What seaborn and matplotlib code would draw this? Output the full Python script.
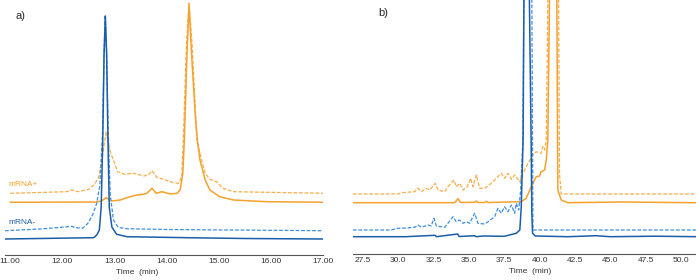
import matplotlib
matplotlib.use("Agg")
import matplotlib.pyplot as plt
import seaborn as sns
from matplotlib.ticker import MultipleLocator, FormatStrFormatter

sns.set_style("white")
plt.rcParams['font.family'] = ['Liberation Sans', 'DejaVu Sans']

# ---- panel a (11-17 min), heights in arbitrary detector units ----
a_blue_t = [10.90, 12.60, 12.66, 12.71, 12.745, 12.775, 12.80, 12.825, 12.85, 12.875,
            12.90, 12.95, 13.04, 13.24, 14.40, 15.50, 17.00]
a_blue_v = [16, 17.3, 20, 25, 48, 115, 200, 239, 200, 115,
            48, 28, 20.7, 18.3, 17.3, 16.5, 16]

a_blue_d_t = [10.90, 11.57, 11.89, 12.18, 12.24, 12.39, 12.49, 12.58, 12.66, 12.72,
              12.77, 12.80, 12.82, 12.85, 12.88, 12.92, 12.98, 13.07, 13.23, 14.00, 16.98]
a_blue_d_v = [24.3, 26, 27.3, 28.7, 27.5, 26.7, 31.7, 40, 51.7, 70,
              120, 200, 240, 200, 120, 60, 35, 27.7, 26.3, 25.5, 24.3]

a_orange_t = [11.00, 12.65, 12.75, 12.84, 12.95, 13.11, 13.30, 13.43, 13.56, 13.62,
              13.72, 13.80, 13.91, 14.07, 14.20, 14.26, 14.31, 14.34, 14.39, 14.43,
              14.48, 14.55, 14.59, 14.64, 14.74, 14.83, 15.02, 15.28, 15.92, 17.10]
a_orange_v = [52.7, 53, 54, 57.3, 54, 55, 58.3, 60, 60.7, 61.7,
              66.7, 61.7, 63.3, 61, 61.7, 65, 81.7, 115, 200, 250,
              200, 140, 115, 95, 75, 65, 58.3, 55, 53.3, 52.7]

a_orange_d_t = [11.00, 12.08, 12.18, 12.30, 12.51, 12.63, 12.70, 12.77, 12.84, 12.90,
                12.93, 13.00, 13.06, 13.19, 13.37, 13.56, 13.65, 13.72, 13.81, 13.94,
                14.13, 14.23, 14.29, 14.32, 14.38, 14.43, 14.49, 14.58, 14.64, 14.74,
                14.83, 14.96, 15.08, 15.28, 17.04]
a_orange_d_v = [61.7, 63.3, 65, 63.3, 65.7, 71.7, 78.3, 100, 123, 108,
                101.7, 91.7, 83.3, 80.7, 81.7, 79, 80, 84.3, 77.7, 75.7,
                72.3, 71.7, 78.3, 115, 210, 252, 210, 115, 101.7, 81.7,
                75.7, 73.3, 66.7, 63.3, 61.7]

# ---- panel b (27-51 min), main peaks run off the top ----
b_blue_t = [26.80, 30.50, 32.60, 32.70, 34.20, 34.30, 35.40, 35.50, 36.00, 37.50,
            38.35, 38.60, 38.70, 38.83, 38.95, 39.15, 39.40, 39.45, 39.50, 39.70,
            42.00, 44.00, 45.00, 48.20, 51.10]
b_blue_v = [17.3, 17.3, 18.7, 17.3, 20, 17.5, 18.3, 17.3, 18, 17.7,
            20.7, 24, 47, 114, 400, 400, 114, 40, 20.7, 18,
            17.3, 18.3, 17.3, 17.8, 17.3]

b_blue_d_t = [26.78, 29.50, 29.98, 30.60, 31.15, 31.39, 31.63, 32.10, 32.33, 32.52,
              32.69, 33.28, 33.51, 33.87, 34.10, 34.34, 34.58, 34.81, 35.05, 35.40,
              35.64, 36.11, 36.35, 36.82, 37.05, 37.29, 37.52, 37.76, 38.00, 38.23,
              38.35, 38.52, 38.66, 38.82, 38.95, 39.40, 39.53, 39.65, 51.10]
b_blue_d_v = [24, 24, 25.7, 26, 26.7, 29, 26.7, 29, 28, 35.7,
              28, 26.7, 30.7, 37.3, 32.3, 34, 30.7, 32.3, 30.7, 40.7,
              30.7, 30, 32.3, 37.3, 45.7, 40.7, 47.3, 42.3, 49, 40.7,
              50.7, 44, 64, 114, 400, 400, 24, 24, 24]

b_orange_t = [26.78, 33.99, 34.22, 34.41, 35.40, 35.52, 35.64, 36.11, 36.23, 36.35,
              38.70, 39.05, 39.41, 39.76, 40.00, 40.11, 40.35, 40.47, 40.58, 40.82,
              41.17, 41.29, 41.53, 42.00, 45.78, 51.06]
b_orange_v = [51.3, 51.3, 55.3, 51.5, 51.7, 53, 51.5, 51.5, 52.7, 51.5,
              52.3, 55.7, 67.3, 77.3, 78, 82.3, 84, 94, 114, 400,
              400, 64, 54, 51.3, 52, 51.3]

b_orange_d_t = [26.78, 29.98, 30.22, 31.15, 31.39, 31.63, 31.98, 32.22, 32.62, 32.81,
                33.28, 33.51, 33.94, 34.10, 34.34, 34.58, 34.88, 35.12, 35.28, 35.52,
                35.76, 36.11, 36.58, 37.05, 37.29, 37.52, 37.76, 38.00, 38.23, 38.59,
                38.82, 39.17, 39.53, 39.76, 40.11, 40.23, 40.35, 40.47, 40.70, 41.29,
                41.41, 41.53, 51.06]
b_orange_d_v = [60, 60, 61.3, 62.3, 65.7, 62.3, 65.7, 64, 70.7, 64,
                62.3, 67.3, 74, 67.3, 70.7, 64, 67.3, 75.7, 67.3, 79,
                65.7, 65.7, 70.7, 77.3, 80.7, 75.7, 80.7, 74.7, 79, 72.3,
                80.7, 90.7, 99, 102.3, 100.7, 107.3, 104, 114, 400, 400,
                80, 60, 60]

ORANGE = "#f6a12c"
ORANGE_D = "#f8ad48"
BLUE = "#1b5dab"
BLUE_D = "#3f8fe0"
DASH = (0, (3, 1.4))

fig = plt.figure(figsize=(6.96, 2.8), dpi=100)
ax_a = fig.add_axes([5 / 696, 25 / 280, 318 / 696, 255 / 280])
ax_b = fig.add_axes([352.7 / 696, 26 / 280, 343.3 / 696, 254 / 280])


def traces(ax, od, o, bd, b):
    sns.lineplot(x=od[0], y=od[1], ax=ax, color=ORANGE_D, lw=0.9, linestyle=DASH,
                 estimator=None, sort=False)
    sns.lineplot(x=o[0], y=o[1], ax=ax, color=ORANGE, lw=1.1,
                 estimator=None, sort=False)
    sns.lineplot(x=bd[0], y=bd[1], ax=ax, color=BLUE_D, lw=0.9, linestyle=DASH,
                 estimator=None, sort=False)
    sns.lineplot(x=b[0], y=b[1], ax=ax, color=BLUE, lw=1.1,
                 estimator=None, sort=False)


traces(ax_a, (a_orange_d_t, a_orange_d_v), (a_orange_t, a_orange_v),
       (a_blue_d_t, a_blue_d_v), (a_blue_t, a_blue_v))
traces(ax_b, (b_orange_d_t, b_orange_d_v), (b_orange_t, b_orange_v),
       (b_blue_d_t, b_blue_d_v), (b_blue_t, b_blue_v))

ax_a.set_xlim(10.9, 17.0)
ax_a.set_ylim(0, 255)
ax_b.set_xlim(26.77, 51.07)
ax_b.set_ylim(0, 254)

ax_a.xaxis.set_major_locator(MultipleLocator(1))
ax_a.xaxis.set_minor_locator(MultipleLocator(0.25))
ax_a.xaxis.set_major_formatter(FormatStrFormatter("%.2f"))
ax_b.xaxis.set_major_locator(MultipleLocator(2.5))
ax_b.xaxis.set_minor_locator(MultipleLocator(0.5))
ax_b.xaxis.set_major_formatter(FormatStrFormatter("%.1f"))

for ax, lx in [(ax_a, 0.414), (ax_b, 0.516)]:
    for s in ["top", "right", "left"]:
        ax.spines[s].set_visible(False)
    ax.spines["bottom"].set_color("#555555")
    ax.spines["bottom"].set_linewidth(0.8)
    ax.set_yticks([])
    ax.set_ylabel("")
    ax.tick_params(axis="x", which="major", direction="in", length=3, width=0.7,
                   color="#555555", labelsize=6, labelcolor="#333333", pad=2)
    ax.tick_params(axis="x", which="minor", direction="in", length=1.8, width=0.6,
                   color="#777777")
    ax.set_xlabel("Time  (min)", fontsize=6, color="#333333")
    ax.xaxis.set_label_coords(lx, -0.055)
    ax.patch.set_alpha(0)

ax_a.text(10.96, 70, "mRNA+", color=ORANGE, fontsize=6, va="center", ha="left")
ax_a.text(10.96, 32, "mRNA-", color=BLUE, fontsize=6, va="center", ha="left")

fig.text(15 / 696, 1 - 16 / 280, "a)", fontsize=8, va="center", ha="left")
fig.text(378 / 696, 1 - 13 / 280, "b)", fontsize=8, va="center", ha="left")

fig.savefig("out.png", dpi=100)
